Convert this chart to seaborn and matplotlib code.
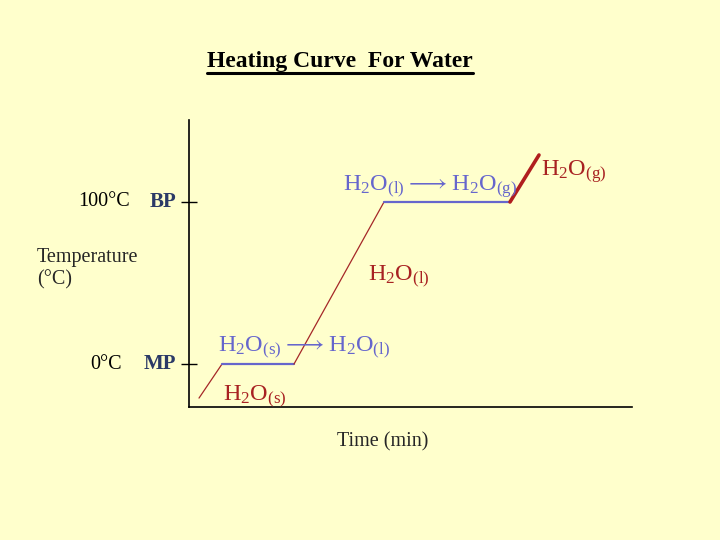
import numpy as np
import pandas as pd
import matplotlib
matplotlib.use("Agg")
import matplotlib.pyplot as plt
import seaborn as sns
from matplotlib.lines import Line2D

# data (time in arbitrary minutes, temperature in degC)
time_pts = [1.0, 3.3, 10.5, 19.5, 32.1, 35.0]
temp_pts = [-21, 0, 0, 100, 100, 129]
seg_colors = ['#A52828', '#6666CC', '#A52828', '#6666CC', '#B01E1E']
seg_widths = [0.9, 1.6, 0.9, 1.6, 2.6]

sns.set_style("white")
plt.rcParams['font.family'] = ['Liberation Serif', 'DejaVu Serif']
plt.rcParams['mathtext.fontset'] = 'custom'
plt.rcParams['mathtext.rm'] = 'Liberation Serif'
plt.rcParams['mathtext.default'] = 'regular'
plt.rcParams['mathtext.fallback'] = 'stix'

bg = '#FFFFCC'
blue = '#6666CC'
red = '#A82222'

fig = plt.figure(figsize=(7.2, 5.4), dpi=100, facecolor=bg)
ax = fig.add_axes([189/720, 1-407/540, (632-189)/720, (407-120)/540])
ax.set_facecolor(bg)

# draw each segment of the heating curve
for i in range(len(time_pts) - 1):
    seg = pd.DataFrame({'time': time_pts[i:i+2], 'temp': temp_pts[i:i+2]})
    sns.lineplot(data=seg, x='time', y='temp', color=seg_colors[i],
                 linewidth=seg_widths[i], sort=False, estimator=None, ax=ax)

ax.set_xlim(0, 44.3)
ax.set_ylim(-26.5, 150.6)
for s in ['top', 'right']:
    ax.spines[s].set_visible(False)
for s in ['left', 'bottom']:
    ax.spines[s].set_color('black')
    ax.spines[s].set_linewidth(1.2)
ax.set_xticks([])
ax.set_yticks([0, 100])
ax.set_yticklabels([])
ax.tick_params(axis='y', direction='inout', length=12, width=1, color='black', left=True)
ax.set_xlabel('')
ax.set_ylabel('')

navy = '#2B3A67'
ax.text(-1.3, 100, 'BP', ha='right', va='center', fontsize=15, fontweight='bold',
        fontstyle='normal', color=navy, clip_on=False)
ax.text(-1.3, 0, 'MP', ha='right', va='center', fontsize=15, fontweight='bold',
        fontstyle='normal', color=navy, clip_on=False)
ax.text(-5.9, 100, '100°C', ha='right', va='center', fontsize=14.5, color='black', clip_on=False)
ax.text(-6.7, 0, '0°C', ha='right', va='center', fontsize=14.5, color='black', clip_on=False)

fs = 17.5
ax.text(15.4, 107, r'H$_2$O$_{(l)}\longrightarrow$H$_2$O$_{(g)}$', color=blue,
        fontsize=fs, ha='left', va='baseline')
ax.text(17.9, 51.2, r'H$_2$O$_{(l)}$', color=red, fontsize=fs, ha='left', va='baseline')
ax.text(2.9, 7.2, r'H$_2$O$_{(s)}\longrightarrow$H$_2$O$_{(l)}$', color=blue,
        fontsize=fs, ha='left', va='baseline')
ax.text(3.4, -22.6, r'H$_2$O$_{(s)}$', color=red, fontsize=fs, ha='left', va='baseline',
        clip_on=False)
ax.text(35.2, 116, r'H$_2$O$_{(g)}$', color=red, fontsize=fs, ha='left', va='baseline',
        clip_on=False)

fig.text(37/720, 1-269/540, 'Temperature\n(°C)', ha='left', va='center', fontsize=14.5,
         linespacing=1.2)
fig.text(383/720, 1-442/540, 'Time (min)', ha='center', va='center', fontsize=14.5)

title = fig.text(340/720, 1-62/540, 'Heating Curve  For Water', ha='center', va='center',
                 fontsize=17, fontweight='bold', color='black')

# underline the title
fig.canvas.draw()
bb = title.get_window_extent()
uy = 1 - 72.5/540
fig.add_artist(Line2D([bb.x0/720, bb.x1/720], [uy, uy], color='black', linewidth=2.2,
                      transform=fig.transFigure))

fig.savefig('out.png', dpi=100, facecolor=bg)
